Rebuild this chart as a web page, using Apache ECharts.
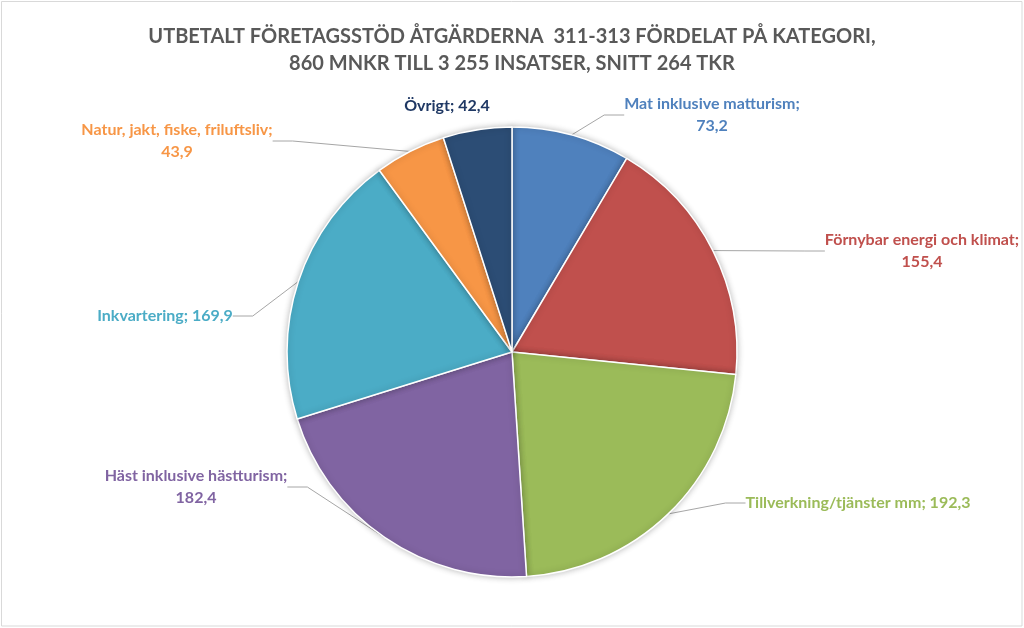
<!DOCTYPE html>
<html>
<head>
<meta charset="utf-8">
<script src="https://cdn.jsdelivr.net/npm/echarts@6/dist/echarts.min.js"></script>
<style>
html,body{margin:0;padding:0;background:#fff;}
#chart{width:1024px;height:628px;}
</style>
</head>
<body>
<div id="chart"></div>
<script>
const titleLines = [
  'UTBETALT FÖRETAGSSTÖD ÅTGÄRDERNA  311-313 FÖRDELAT PÅ KATEGORI,',
  '860 MNKR TILL 3 255 INSATSER, SNITT 264 TKR'
];
const categories = [
  'Mat inklusive matturism',
  'Förnybar energi och klimat',
  'Tillverkning/tjänster mm',
  'Häst inklusive hästturism',
  'Inkvartering',
  'Natur, jakt, fiske, friluftsliv',
  'Övrigt'
];
const values = [73.2, 155.4, 192.3, 182.4, 169.9, 43.9, 42.4];
const colors = ['#4F81BD', '#C0504D', '#9BBB59', '#8064A2', '#4BACC6', '#F79646', '#2C4D75'];
const labelColors = ['#4F81BD', '#C0504D', '#9BBB59', '#8064A2', '#4BACC6', '#F79646', '#1F3864'];
const wrapLabel = [true, true, false, true, false, true, false];
const showLeader = [true, true, true, true, true, true, false];

// label placement (layout, not data)
const labelPos = [
  [712, 115], [922, 251], [858, 503], [196, 487], [165, 316], [177, 141], [447, 106]
];

const fmt = v => v.toFixed(1).replace('.', ',');

const chart = echarts.init(document.getElementById('chart'), null, {renderer: 'canvas'});
chart.setOption({
  backgroundColor: '#ffffff',
  animation: false,
  graphic: [{
    type: 'rect',
    shape: {x: 1.5, y: 1.5, width: 1020.5, height: 624.5},
    style: {fill: 'none', stroke: '#D9D9D9', lineWidth: 1},
    silent: true,
    z: 0
  }],
  title: {
    text: titleLines.join('\n'),
    left: 'center',
    top: 18,
    textStyle: {
      fontFamily: 'Lato',
      fontWeight: 'bold',
      fontSize: 20,
      color: '#595959',
      lineHeight: 27
    }
  },
  series: [{
    type: 'pie',
    center: [512, 352],
    radius: 225,
    startAngle: 90,
    clockwise: true,
    data: categories.map((c, i) => ({
      name: c,
      value: values[i],
      itemStyle: {color: colors[i]},
      label: {color: labelColors[i]},
      labelLine: {show: showLeader[i]}
    })),
    itemStyle: {
      borderColor: '#ffffff',
      borderWidth: 1.5,
      shadowBlur: 6,
      shadowColor: 'rgba(0,0,0,0.25)'
    },
    label: {
      show: true,
      fontFamily: 'Lato',
      fontWeight: 'bold',
      fontSize: 16,
      lineHeight: 22,
      align: 'center',
      formatter: p => p.name + ';' + (wrapLabel[p.dataIndex] ? '\n' : ' ') + fmt(p.value)
    },
    labelLine: {
      show: true,
      length: 20,
      length2: 20,
      lineStyle: {color: '#A6A6A6', width: 1}
    },
    labelLayout: function (params) {
      const p = labelPos[params.dataIndex];
      return {x: p[0], y: p[1], align: 'center', verticalAlign: 'middle'};
    }
  }]
});
</script>
</body>
</html>
